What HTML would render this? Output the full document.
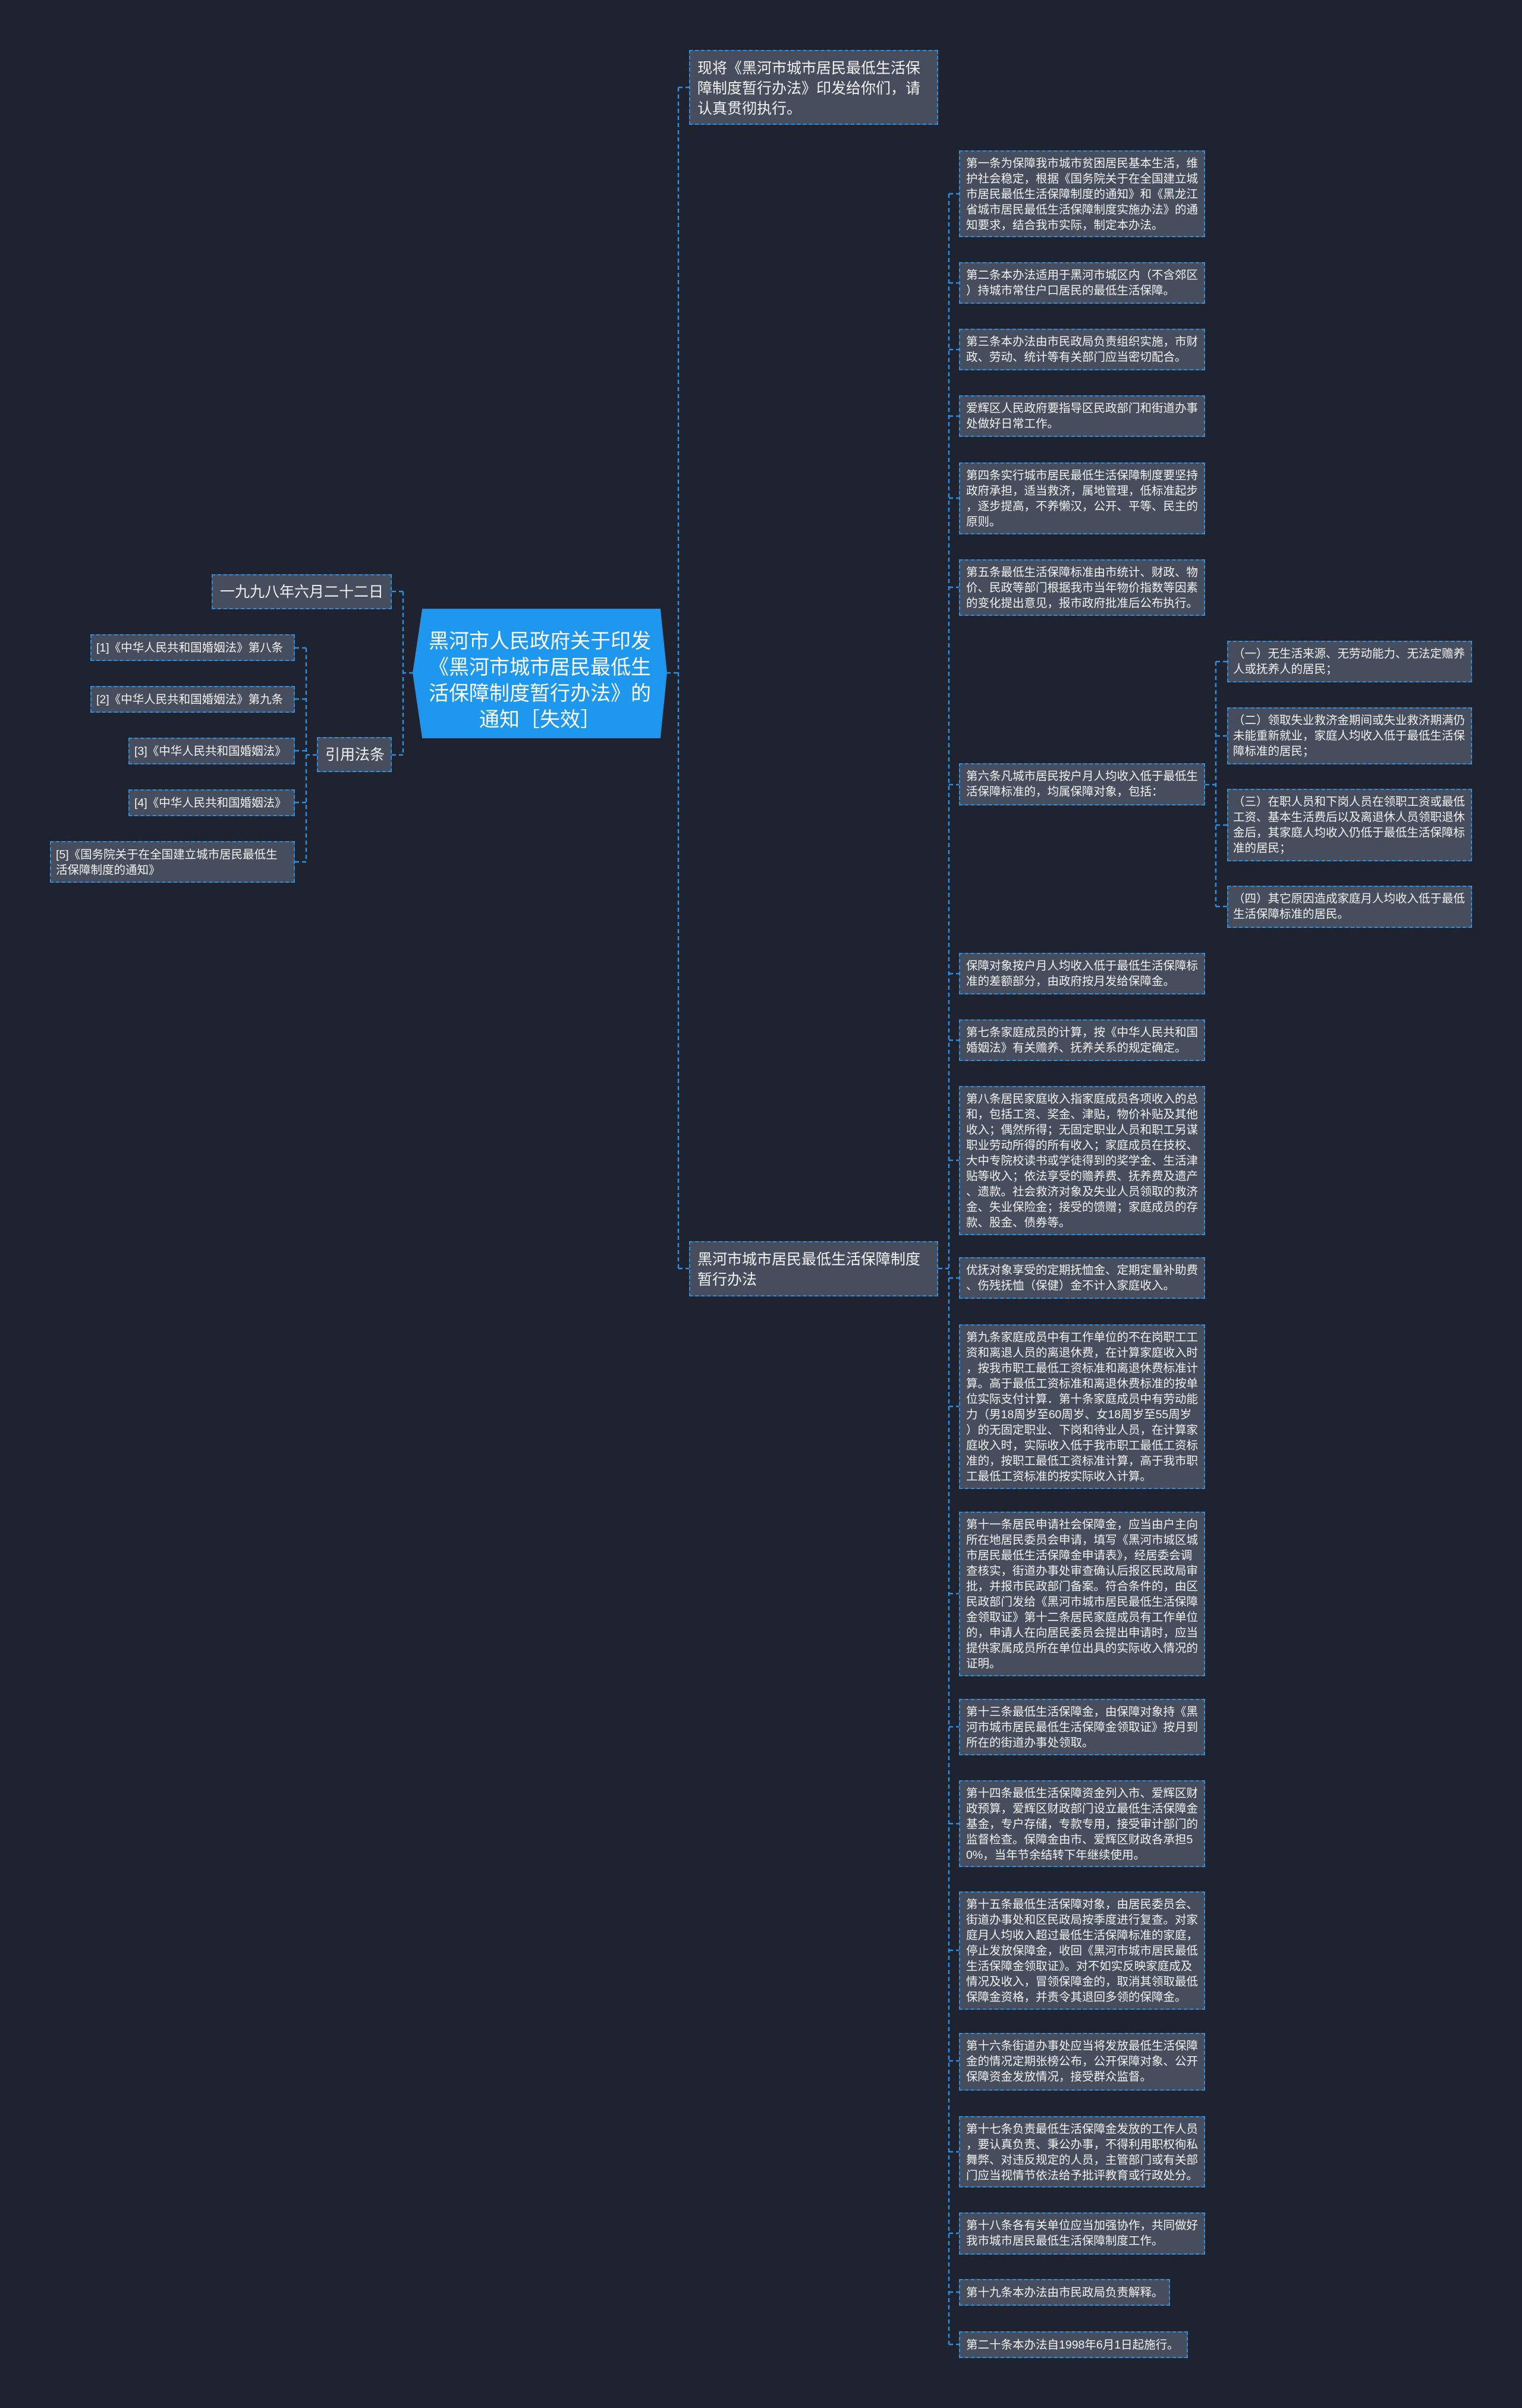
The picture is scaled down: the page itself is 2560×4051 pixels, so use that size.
<!DOCTYPE html>
<html><head><meta charset="utf-8">
<style>
html,body{margin:0;padding:0;}
body{width:2560px;height:4051px;background:#1f2330;position:relative;overflow:hidden;font-family:"Liberation Sans","Noto Sans CJK SC",sans-serif;}
.n{position:absolute;box-sizing:border-box;background:#464d5c;border:2px dashed #2b8fe3;color:#f2f2f2;white-space:nowrap;}
.r{left:1613px;width:414px;font-size:19.5px;line-height:26px;padding:7px 0 0 10px;}
.s{left:2064px;width:412px;font-size:19.5px;line-height:26px;padding:7px 0 0 8px;}
.l{font-size:19.5px;line-height:26px;padding:8px 0 0 8px;}
.b{font-size:25px;line-height:34px;padding:12px 0 0 12px;}
svg{position:absolute;left:0;top:0;}
</style></head><body>
<svg width="2560" height="4051">
<g stroke="#2b8fe3" stroke-width="2.5" stroke-dasharray="7,5" fill="none">
<path d="M1141 147 V2134 M1141 147 H1159 M1141 2134 H1159 M1121 1132 H1141"/>
<path d="M1596 326 V3944 M1578 2134 H1596"/>
<path d="M1596 326 H1613 M1596 476 H1613 M1596 588 H1613 M1596 700 H1613 M1596 838 H1613 M1596 988 H1613 M1596 1320 H1613 M1596 1638 H1613 M1596 1750 H1613 M1596 1952 H1613 M1596 2150 H1613 M1596 2366 H1613 M1596 2681 H1613 M1596 2905 H1613 M1596 3068 H1613 M1596 3281 H1613 M1596 3467 H1613 M1596 3620 H1613 M1596 3757 H1613 M1596 3856 H1613 M1596 3944 H1613"/>
<path d="M2027 1320 H2045 M2045 1113 V1525 M2045 1113 H2064 M2045 1238 H2064 M2045 1388 H2064 M2045 1525 H2064"/>
<path d="M695 1132 H678 M678 995 V1270 M678 995 H659 M678 1270 H659"/>
<path d="M533 1270 H515 M515 1090 V1450 M515 1090 H496 M515 1176 H496 M515 1263 H496 M515 1350 H496 M515 1450 H496"/>
</g>
<polygon points="711,1025 1110,1025 1121,1132 1110,1241 711,1241 695,1132" fill="#1e98ee" stroke="#2b8fe3" stroke-width="2"/>
</svg>

<div style="position:absolute;left:695px;top:1057px;width:426px;text-align:center;color:#fff;font-size:34px;line-height:44px;white-space:nowrap;">黑河市人民政府关于印发<br>《黑河市城市居民最低生<br>活保障制度暂行办法》的<br>通知［失效］</div>

<div class="n b" style="left:1159px;top:84px;width:419px;height:126px;">现将《黑河市城市居民最低生活保<br>障制度暂行办法》印发给你们，请<br>认真贯彻执行。</div>
<div class="n b" style="left:1159px;top:2088px;width:419px;height:93px;">黑河市城市居民最低生活保障制度<br>暂行办法</div>

<div class="n b" style="left:356px;top:966px;width:303px;height:59px;padding-top:11px;">一九九八年六月二十二日</div>
<div class="n b" style="left:533px;top:1240px;width:126px;height:59px;padding-top:11px;">引用法条</div>

<div class="n l" style="left:152px;top:1067px;width:344px;height:45px;">[1]《中华人民共和国婚姻法》第八条</div>
<div class="n l" style="left:152px;top:1154px;width:344px;height:45px;">[2]《中华人民共和国婚姻法》第九条</div>
<div class="n l" style="left:216px;top:1241px;width:280px;height:45px;">[3]《中华人民共和国婚姻法》</div>
<div class="n l" style="left:216px;top:1328px;width:280px;height:45px;">[4]《中华人民共和国婚姻法》</div>
<div class="n l" style="left:84px;top:1415px;width:412px;height:70px;">[5]《国务院关于在全国建立城市居民最低生<br>活保障制度的通知》</div>

<div class="n r" style="top:253px;height:146px;">第一条为保障我市城市贫困居民基本生活，维<br>护社会稳定，根据《国务院关于在全国建立城<br>市居民最低生活保障制度的通知》和《黑龙江<br>省城市居民最低生活保障制度实施办法》的通<br>知要求，结合我市实际，制定本办法。</div>
<div class="n r" style="top:441px;height:70px;">第二条本办法适用于黑河市城区内（不含郊区<br>）持城市常住户口居民的最低生活保障。</div>
<div class="n r" style="top:553px;height:70px;">第三条本办法由市民政局负责组织实施，市财<br>政、劳动、统计等有关部门应当密切配合。</div>
<div class="n r" style="top:665px;height:70px;">爱辉区人民政府要指导区民政部门和街道办事<br>处做好日常工作。</div>
<div class="n r" style="top:778px;height:121px;">第四条实行城市居民最低生活保障制度要坚持<br>政府承担，适当救济，属地管理，低标准起步<br>，逐步提高，不养懒汉，公开、平等、民主的<br>原则。</div>
<div class="n r" style="top:941px;height:95px;">第五条最低生活保障标准由市统计、财政、物<br>价、民政等部门根据我市当年物价指数等因素<br>的变化提出意见，报市政府批准后公布执行。</div>
<div class="n r" style="top:1284px;height:71px;">第六条凡城市居民按户月人均收入低于最低生<br>活保障标准的，均属保障对象，包括：</div>

<div class="n s" style="top:1078px;height:70px;">（一）无生活来源、无劳动能力、无法定赡养<br>人或抚养人的居民；</div>
<div class="n s" style="top:1190px;height:96px;">（二）领取失业救济金期间或失业救济期满仍<br>未能重新就业，家庭人均收入低于最低生活保<br>障标准的居民；</div>
<div class="n s" style="top:1327px;height:122px;">（三）在职人员和下岗人员在领职工资或最低<br>工资、基本生活费后以及离退休人员领职退休<br>金后，其家庭人均收入仍低于最低生活保障标<br>准的居民；</div>
<div class="n s" style="top:1490px;height:71px;">（四）其它原因造成家庭月人均收入低于最低<br>生活保障标准的居民。</div>

<div class="n r" style="top:1603px;height:70px;">保障对象按户月人均收入低于最低生活保障标<br>准的差额部分，由政府按月发给保障金。</div>
<div class="n r" style="top:1715px;height:70px;">第七条家庭成员的计算，按《中华人民共和国<br>婚姻法》有关赡养、抚养关系的规定确定。</div>
<div class="n r" style="top:1827px;height:251px;">第八条居民家庭收入指家庭成员各项收入的总<br>和，包括工资、奖金、津贴，物价补贴及其他<br>收入；偶然所得；无固定职业人员和职工另谋<br>职业劳动所得的所有收入；家庭成员在技校、<br>大中专院校读书或学徒得到的奖学金、生活津<br>贴等收入；依法享受的赡养费、抚养费及遗产<br>、遗款。社会救济对象及失业人员领取的救济<br>金、失业保险金；接受的馈赠；家庭成员的存<br>款、股金、债券等。</div>
<div class="n r" style="top:2115px;height:70px;">优抚对象享受的定期抚恤金、定期定量补助费<br>、伤残抚恤（保健）金不计入家庭收入。</div>
<div class="n r" style="top:2228px;height:277px;">第九条家庭成员中有工作单位的不在岗职工工<br>资和离退人员的离退休费，在计算家庭收入时<br>，按我市职工最低工资标准和离退休费标准计<br>算。高于最低工资标准和离退休费标准的按单<br>位实际支付计算．第十条家庭成员中有劳动能<br>力（男18周岁至60周岁、女18周岁至55周岁<br>）的无固定职业、下岗和待业人员，在计算家<br>庭收入时，实际收入低于我市职工最低工资标<br>准的，按职工最低工资标准计算，高于我市职<br>工最低工资标准的按实际收入计算。</div>
<div class="n r" style="top:2543px;height:277px;">第十一条居民申请社会保障金，应当由户主向<br>所在地居民委员会申请，填写《黑河市城区城<br>市居民最低生活保障金申请表》，经居委会调<br>查核实，街道办事处审查确认后报区民政局审<br>批，并报市民政部门备案。符合条件的，由区<br>民政部门发给《黑河市城市居民最低生活保障<br>金领取证》第十二条居民家庭成员有工作单位<br>的，申请人在向居民委员会提出申请时，应当<br>提供家属成员所在单位出具的实际收入情况的<br>证明。</div>
<div class="n r" style="top:2858px;height:95px;">第十三条最低生活保障金，由保障对象持《黑<br>河市城市居民最低生活保障金领取证》按月到<br>所在的街道办事处领取。</div>
<div class="n r" style="top:2995px;height:146px;">第十四条最低生活保障资金列入市、爱辉区财<br>政预算，爱辉区财政部门设立最低生活保障金<br>基金，专户存储，专款专用，接受审计部门的<br>监督检查。保障金由市、爱辉区财政各承担5<br>0%，当年节余结转下年继续使用。</div>
<div class="n r" style="top:3182px;height:199px;">第十五条最低生活保障对象，由居民委员会、<br>街道办事处和区民政局按季度进行复查。对家<br>庭月人均收入超过最低生活保障标准的家庭，<br>停止发放保障金，收回《黑河市城市居民最低<br>生活保障金领取证》。对不如实反映家庭成及<br>情况及收入，冒领保障金的，取消其领取最低<br>保障金资格，并责令其退回多领的保障金。</div>
<div class="n r" style="top:3420px;height:97px;">第十六条街道办事处应当将发放最低生活保障<br>金的情况定期张榜公布，公开保障对象、公开<br>保障资金发放情况，接受群众监督。</div>
<div class="n r" style="top:3560px;height:120px;">第十七条负责最低生活保障金发放的工作人员<br>，要认真负责、秉公办事，不得利用职权徇私<br>舞弊、对违反规定的人员，主管部门或有关部<br>门应当视情节依法给予批评教育或行政处分。</div>
<div class="n r" style="top:3722px;height:71px;">第十八条各有关单位应当加强协作，共同做好<br>我市城市居民最低生活保障制度工作。</div>
<div class="n r" style="top:3834px;height:45px;width:355px;padding-top:8px;">第十九条本办法由市民政局负责解释。</div>
<div class="n r" style="top:3922px;height:45px;width:385px;padding-top:8px;">第二十条本办法自1998年6月1日起施行。</div>
</body></html>
